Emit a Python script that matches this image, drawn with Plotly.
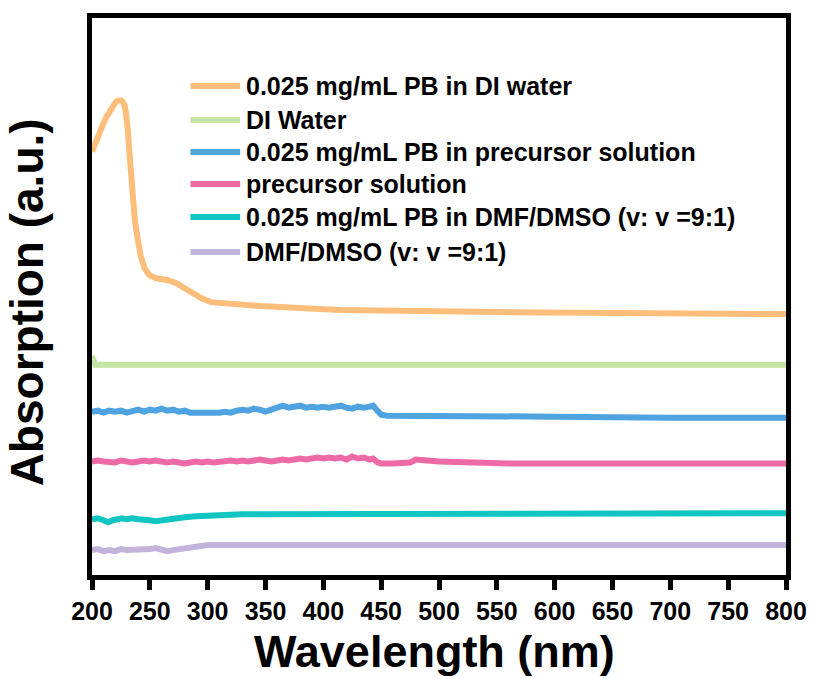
import plotly.graph_objects as go

# ---------------- data ----------------
names = [
    "0.025 mg/mL PB in DI water",
    "DI Water",
    "0.025 mg/mL PB in precursor solution",
    "precursor solution",
    "0.025 mg/mL PB in DMF/DMSO (v: v =9:1)",
    "DMF/DMSO (v: v =9:1)",
]
colors = ["#FDBE7C", "#C5E6A2", "#4FA3E0", "#EE6AA7", "#11C6C2", "#C3B3DA"]

pb_water_x = [200, 204, 208.6, 212, 215.4, 218, 220.6, 222.3, 223.7, 225.2, 226.6,
              228, 229.1, 230.1, 230.9, 232.1, 233.4,
              235.1, 236.9, 239.4, 242, 245.4, 249.7, 255.7, 266, 272.9, 279.7,
              287.4, 294.3, 302.9, 320, 345.7, 414.3, 551.4, 800]
pb_water_y = [0.425, 0.438, 0.450, 0.459, 0.466, 0.471, 0.475, 0.4765, 0.477, 0.4765, 0.475,
              0.472, 0.466, 0.458, 0.448, 0.428, 0.408,
              0.383, 0.358, 0.338, 0.321, 0.308, 0.301, 0.298, 0.296, 0.293, 0.288,
              0.282, 0.278, 0.274, 0.272, 0.270, 0.266, 0.264, 0.262]

water_x = [200, 202.8, 205, 300, 450, 600, 800]
water_y = [0.220, 0.211, 0.211, 0.211, 0.212, 0.211, 0.211]

pb_prec_x = [200, 205, 210, 215, 220, 225, 230, 235, 240, 245, 250, 255, 260, 265,
             270, 275, 280, 285, 290, 295, 300, 305, 310, 315, 320, 325, 330, 335,
             340, 345, 350, 355, 360, 365, 370, 375, 380, 385, 390, 395, 400, 405,
             410, 415, 420, 425, 430, 435, 440, 443, 446, 450, 455, 500, 600, 700, 800]
pb_prec_y = [0.164, 0.165, 0.163, 0.165, 0.164, 0.165, 0.163, 0.165, 0.166, 0.164,
             0.166, 0.165, 0.167, 0.165, 0.166, 0.164, 0.165, 0.163, 0.163, 0.162,
             0.163, 0.162, 0.163, 0.164, 0.163, 0.165, 0.166, 0.165, 0.167, 0.166,
             0.164, 0.166, 0.168, 0.170, 0.168, 0.169, 0.170, 0.168, 0.169, 0.168,
             0.169, 0.168, 0.169, 0.170, 0.168, 0.167, 0.169, 0.168, 0.169, 0.170,
             0.166, 0.161, 0.160, 0.160, 0.159, 0.158, 0.158]

prec_x = [200, 205, 210, 215, 220, 225, 230, 235, 240, 245, 250, 255, 260, 265,
          270, 275, 280, 285, 290, 295, 300, 305, 310, 315, 320, 325, 330, 335,
          340, 345, 350, 355, 360, 365, 370, 375, 380, 385, 390, 395, 400, 405,
          410, 415, 420, 425, 430, 435, 440, 443, 447, 450, 460, 470, 475, 480,
          485, 490, 500, 520, 560, 650, 800]
prec_y = [0.114, 0.115, 0.114, 0.114, 0.113, 0.115, 0.114, 0.113, 0.114, 0.115,
          0.114, 0.115, 0.114, 0.113, 0.114, 0.113, 0.112, 0.113, 0.114, 0.113,
          0.114, 0.113, 0.114, 0.114, 0.115, 0.114, 0.115, 0.114, 0.115, 0.116,
          0.115, 0.114, 0.115, 0.116, 0.115, 0.116, 0.117, 0.116, 0.117, 0.118,
          0.117, 0.118, 0.117, 0.118, 0.116, 0.119, 0.117, 0.118, 0.116, 0.117,
          0.113, 0.112, 0.112, 0.112, 0.113, 0.116, 0.116, 0.115, 0.114, 0.113,
          0.112, 0.112, 0.112]

pb_dmf_x = [200, 205, 210, 214, 218, 222, 226, 230, 235, 240, 245, 250, 255, 260,
            265, 270, 280, 290, 300, 310, 330, 400, 500, 600, 700, 800]
pb_dmf_y = [0.056, 0.057, 0.055, 0.053, 0.055, 0.056, 0.057, 0.056, 0.057, 0.056,
            0.056, 0.055, 0.054, 0.055, 0.056, 0.057, 0.058, 0.059, 0.060, 0.060,
            0.061, 0.061, 0.061, 0.061, 0.062, 0.062]

dmf_x = [200, 205, 210, 215, 220, 225, 230, 235, 240, 245, 250, 255, 260, 265,
         270, 280, 290, 300, 320, 400, 500, 600, 800]
dmf_y = [0.025, 0.026, 0.024, 0.025, 0.024, 0.026, 0.025, 0.025, 0.026, 0.025,
         0.026, 0.027, 0.026, 0.024, 0.025, 0.027, 0.029, 0.030, 0.030, 0.030,
         0.030, 0.030, 0.030]

series_x = [pb_water_x, water_x, pb_prec_x, prec_x, pb_dmf_x, dmf_x]
series_y = [pb_water_y, water_y, pb_prec_y, prec_y, pb_dmf_y, dmf_y]

x_ticks = [200, 250, 300, 350, 400, 450, 500, 550, 600, 650, 700, 750, 800]

# ---------------- figure ----------------
FONT = "Liberation Sans, Arial, Helvetica, sans-serif"
W, H = 819, 679
ML, MR, MT, MB = 92, 29, 18, 104
PW, PH = W - ML - MR, H - MT - MB

fig = go.Figure()
for nm, c, xs, ys in zip(names, colors, series_x, series_y):
    fig.add_trace(go.Scatter(x=xs, y=ys, mode="lines", name=nm,
                             line=dict(color=c, width=6), showlegend=False))

def px_x(p):
    return (p - ML) / PW

def px_y(p):
    return (H - MB - p) / PH

# manual legend
leg_rows = [86, 120, 152, 184, 217, 252]
for nm, c, py in zip(names, colors, leg_rows):
    fig.add_shape(type="line", xref="paper", yref="paper",
                  x0=px_x(191), x1=px_x(241), y0=px_y(py), y1=px_y(py),
                  line=dict(color=c, width=6))
    fig.add_annotation(xref="paper", yref="paper", x=px_x(245), y=px_y(py),
                       text=nm, showarrow=False, xanchor="left", yanchor="middle",
                       font=dict(family=FONT, size=25, color="black", weight="bold"))

# axis titles
fig.add_annotation(xref="paper", yref="paper", x=px_x(436), y=px_y(651),
                   text="Wavelength (nm)", showarrow=False, xanchor="center",
                   yanchor="middle",
                   font=dict(family=FONT, size=45, color="black", weight="bold"))
fig.add_annotation(xref="paper", yref="paper", x=px_x(27), y=px_y(302),
                   text="Absorption (a.u.)", showarrow=False, textangle=-90,
                   xanchor="center", yanchor="middle",
                   font=dict(family=FONT, size=46, color="black", weight="bold"))

fig.update_layout(
    width=W, height=H,
    margin=dict(l=ML, r=MR, t=MT, b=MB),
    paper_bgcolor="white", plot_bgcolor="white",
    font=dict(family=FONT, color="black"),
)
fig.update_xaxes(range=[200, 800], tickvals=x_ticks, ticktext=[str(v) for v in x_ticks],
                 showline=True, mirror=True, linecolor="black", linewidth=5,
                 ticks="outside", ticklen=10, tickwidth=5, tickcolor="black",
                 showgrid=False, zeroline=False,
                 tickfont=dict(family=FONT, size=25, color="black", weight="bold"))
fig.update_yaxes(range=[0, 0.5593], showticklabels=False, ticks="",
                 showline=True, mirror=True, linecolor="black", linewidth=5,
                 showgrid=False, zeroline=False)

fig.write_html("out.html", config={"displayModeBar": False})

# remove the browser's default page margin so the figure sits at (0, 0)
with open("out.html", "r", encoding="utf-8") as f:
    html = f.read()
html = html.replace("<head>", "<head><style>html,body{margin:0;padding:0;overflow:hidden;}</style>", 1)
with open("out.html", "w", encoding="utf-8") as f:
    f.write(html)
